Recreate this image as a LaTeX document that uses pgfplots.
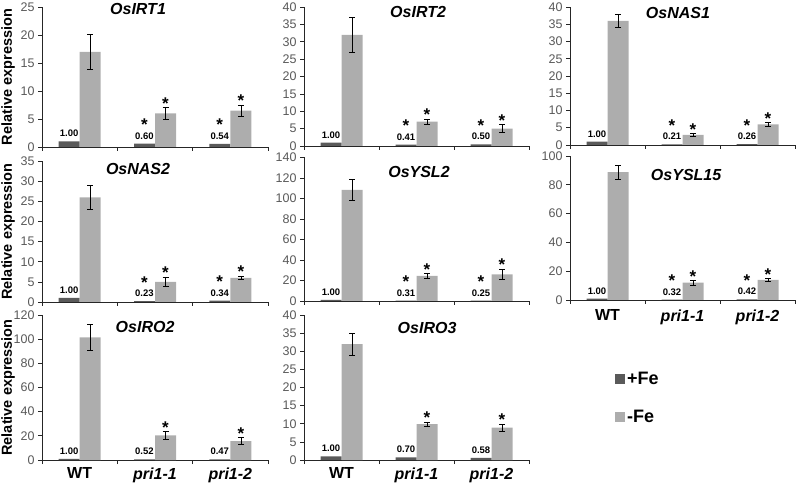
\documentclass[border=0pt]{standalone}
\usepackage{fontspec}
\setmainfont{Liberation Sans}
\usepackage{pgfplots}
\pgfplotsset{compat=1.18}
\definecolor{plusc}{HTML}{5A5A5A}
\definecolor{minusc}{HTML}{ADADAD}
\pgfplotsset{
  base/.style={
    scale only axis,
    axis lines*=left,
    xmin=-0.5, xmax=2.5, ymin=0,
    enlargelimits=false,
    clip=false,
    xtick={-0.5,0.5,1.5,2.5}, xticklabels={,,,},
    tick align=outside,
    major tick length=4pt,
    axis line style={black!85, line width=0.7pt},
    every tick/.style={black!85, line width=0.7pt},
    yticklabel style={font=\fontsize{12.5}{13}\selectfont, text=black!65},
    /pgf/number format/assume math mode=true,
    every axis title shift=0pt,
    title style={font=\bfseries\itshape\fontsize{16}{17}\selectfont, anchor=center, inner sep=0pt, yshift=0pt},
    ylabel style={font=\bfseries\fontsize{14.5}{15}\selectfont, at={(axis description cs:-0.15,0.5)}, anchor=center},
  },
  xlab/.style={extra x ticks={0,1,2}, extra x tick labels={WT,\textit{pri1-1},\textit{pri1-2}},
    extra x tick style={major tick length=0pt, tick label style={font=\bfseries\fontsize{16}{17}\selectfont, text=black, yshift=#1}}},
  plusfe/.style={ybar, bar width=21pt, bar shift=-10.5pt, fill=plusc, draw=none},
  minusfe/.style={ybar, bar width=21pt, bar shift=10.5pt, fill=minusc, draw=none},
  errp/.style={draw=none, mark=none, forget plot,
    error bars/y dir=both, error bars/y explicit,
    error bars/error bar style={draw=black, line width=0.6pt},
    error bars/error mark options={rotate=90, mark size=3pt, draw=black, line width=0.6pt}},
  vlab/.style={draw=none, mark=none, forget plot, nodes near coords, point meta=explicit symbolic,
    nodes near coords style={anchor=base, yshift=4.5pt, font=\bfseries\fontsize{9.5}{10}\selectfont, text=black, inner sep=0pt}},
  slab/.style={draw=none, mark=none, forget plot, nodes near coords, point meta=explicit symbolic,
    nodes near coords style={anchor=base, yshift=13pt, font=\bfseries\fontsize{17}{17}\selectfont, text=black, inner sep=0pt}},
  mstar/.style={draw=none, mark=none, forget plot, nodes near coords, point meta=explicit symbolic,
    nodes near coords style={anchor=base, yshift=-1.7pt, font=\bfseries\fontsize{17}{17}\selectfont, text=black, inner sep=0pt}},
}
\begin{document}
\begin{tikzpicture}
\useasboundingbox (0,0) rectangle (799pt,484pt);
% ---------- P1 OsIRT1
\begin{axis}[base, at={(42pt,337pt)}, anchor=south west, width=226pt, height=140pt,
  ymax=25, ytick={0,5,...,25}, ylabel={Relative expression},
  title={OsIRT1}, title style={at={(axis description cs:0.425,0.986)}}]
\addplot[plusfe] coordinates {(0,1) (1,0.60) (2,0.54)};
\addplot[minusfe] coordinates {(0,17) (1,6) (2,6.5)};
\addplot[errp] coordinates {(0.14,17) +- (0,3.1) (1.14,6) +- (0,1) (2.14,6.5) +- (0,1)};
\addplot[vlab] table[meta=t] {x y t
-0.14 1 1.00
0.86 0.60 0.60
1.86 0.54 0.54
};
\addplot[slab] table[meta=t] {x y t
0.86 0.60 *
1.86 0.54 *
};
\addplot[mstar] table[meta=t] {x y t
1.14 7 *
2.14 7.5 *
};
\end{axis}
% ---------- P2 OsIRT2
\begin{axis}[base, at={(304pt,338pt)}, anchor=south west, width=225pt, height=139pt,
  ymax=40, ytick={0,5,...,40},
  title={OsIRT2}, title style={at={(axis description cs:0.507,0.964)}}]
\addplot[plusfe] coordinates {(0,1) (1,0.41) (2,0.50)};
\addplot[minusfe] coordinates {(0,32) (1,7) (2,5)};
\addplot[errp] coordinates {(0.14,32) +- (0,5) (1.14,7) +- (0,0.7) (2.14,5) +- (0,1.1)};
\addplot[vlab] table[meta=t] {x y t
-0.14 1 1.00
0.86 0.41 0.41
1.86 0.50 0.50
};
\addplot[slab] table[meta=t] {x y t
0.86 0.41 *
1.86 0.50 *
};
\addplot[mstar] table[meta=t] {x y t
1.14 7.7 *
2.14 6.1 *
};
\end{axis}
% ---------- P3 OsNAS1
\begin{axis}[base, at={(570pt,339pt)}, anchor=south west, width=225pt, height=138pt,
  ymax=40, ytick={0,5,...,40},
  title={OsNAS1}, title style={at={(axis description cs:0.48,0.957)}}]
\addplot[plusfe] coordinates {(0,1) (1,0.21) (2,0.26)};
\addplot[minusfe] coordinates {(0,36) (1,2.9) (2,6)};
\addplot[errp] coordinates {(0.14,36) +- (0,1.9) (1.14,2.9) +- (0,0.35) (2.14,6) +- (0,0.5)};
\addplot[vlab] table[meta=t] {x y t
-0.14 1 1.00
0.86 0.21 0.21
1.86 0.26 0.26
};
\addplot[slab] table[meta=t] {x y t
0.86 0.21 *
1.86 0.26 *
};
\addplot[mstar] table[meta=t] {x y t
1.14 3.25 *
2.14 6.5 *
};
\end{axis}
% ---------- P4 OsNAS2
\begin{axis}[base, at={(42pt,182pt)}, anchor=south west, width=226pt, height=141pt,
  ymax=35, ytick={0,5,...,35}, ylabel={Relative expression},
  title={OsNAS2}, title style={at={(axis description cs:0.425,0.943)}}]
\addplot[plusfe] coordinates {(0,1) (1,0.23) (2,0.34)};
\addplot[minusfe] coordinates {(0,26) (1,5) (2,6)};
\addplot[errp] coordinates {(0.14,26) +- (0,3) (1.14,5) +- (0,1.2) (2.14,6) +- (0,0.4)};
\addplot[vlab] table[meta=t] {x y t
-0.14 1 1.00
0.86 0.23 0.23
1.86 0.34 0.34
};
\addplot[slab] table[meta=t] {x y t
0.86 0.23 *
1.86 0.34 *
};
\addplot[mstar] table[meta=t] {x y t
1.14 6.2 *
2.14 6.4 *
};
\end{axis}
% ---------- P5 OsYSL2
\begin{axis}[base, at={(304pt,183pt)}, anchor=south west, width=225pt, height=143.5pt,
  ymax=140, ytick={0,20,...,140},
  title={OsYSL2}, title style={at={(axis description cs:0.511,0.899)}}]
\addplot[plusfe] coordinates {(0,1) (1,0.31) (2,0.25)};
\addplot[minusfe] coordinates {(0,108.5) (1,24.4) (2,26)};
\addplot[errp] coordinates {(0.14,108.5) +- (0,10.5) (1.14,24.4) +- (0,2.3) (2.14,26) +- (0,5)};
\addplot[vlab] table[meta=t] {x y t
-0.14 1 1.00
0.86 0.31 0.31
1.86 0.25 0.25
};
\addplot[slab] table[meta=t] {x y t
0.86 0.31 *
1.86 0.25 *
};
\addplot[mstar] table[meta=t] {x y t
1.14 26.7 *
2.14 31 *
};
\end{axis}
% ---------- P6 OsYSL15
\begin{axis}[base, xlab=-6pt, at={(570pt,184pt)}, anchor=south west, width=225pt, height=144pt,
  ymax=100, ytick={0,20,...,100},
  title={OsYSL15}, title style={at={(axis description cs:0.516,0.868)}}]
\addplot[plusfe] coordinates {(0,1) (1,0.32) (2,0.42)};
\addplot[minusfe] coordinates {(0,88.8) (1,12) (2,13.9)};
\addplot[errp] coordinates {(0.14,88.8) +- (0,5) (1.14,12) +- (0,1.5) (2.14,13.9) +- (0,1)};
\addplot[vlab] table[meta=t] {x y t
-0.14 1 1.00
0.86 0.32 0.32
1.86 0.42 0.42
};
\addplot[slab] table[meta=t] {x y t
0.86 0.32 *
1.86 0.42 *
};
\addplot[mstar] table[meta=t] {x y t
1.14 13.5 *
2.14 14.9 *
};
\end{axis}
% ---------- P7 OsIRO2
\begin{axis}[base, xlab=-4pt, at={(42pt,24pt)}, anchor=south west, width=226pt, height=145pt,
  ymax=120, ytick={0,20,...,120}, ylabel={Relative expression},
  title={OsIRO2}, title style={at={(axis description cs:0.456,0.917)}}]
\addplot[plusfe] coordinates {(0,1) (1,0.52) (2,0.47)};
\addplot[minusfe] coordinates {(0,101.4) (1,20.4) (2,15.7)};
\addplot[errp] coordinates {(0.14,101.4) +- (0,11) (1.14,20.4) +- (0,3) (2.14,15.7) +- (0,3)};
\addplot[vlab] table[meta=t] {x y t
-0.14 1 1.00
0.86 0.52 0.52
1.86 0.47 0.47
};
\addplot[mstar] table[meta=t] {x y t
1.14 23.4 *
2.14 18.7 *
};
\end{axis}
% ---------- P8 OsIRO3
\begin{axis}[base, xlab=-4pt, at={(304pt,24pt)}, anchor=south west, width=225pt, height=145pt,
  ymax=40, ytick={0,5,...,40},
  title={OsIRO3}, title style={at={(axis description cs:0.547,0.91)}},
  legend style={at={(axis description cs:1.382,0.62)}, anchor=north west, draw=none, fill=none,
    font=\bfseries\fontsize{18}{19}\selectfont, row sep=20pt, inner sep=0pt},
  legend cell align=left,
  legend image code/.code={\fill[#1] (0pt,-5pt) rectangle (10pt,5pt);}]
\addplot[plusfe] coordinates {(0,1) (1,0.70) (2,0.58)};
\addlegendentry{+Fe}
\addplot[minusfe] coordinates {(0,32) (1,9.9) (2,8.9)};
\addlegendentry{-Fe}
\addplot[errp] coordinates {(0.14,32) +- (0,3) (1.14,9.9) +- (0,0.6) (2.14,8.9) +- (0,1)};
\addplot[vlab] table[meta=t] {x y t
-0.14 1 1.00
0.86 0.70 0.70
1.86 0.58 0.58
};
\addplot[mstar] table[meta=t] {x y t
1.14 10.5 *
2.14 9.9 *
};
\end{axis}
\end{tikzpicture}
\end{document}
